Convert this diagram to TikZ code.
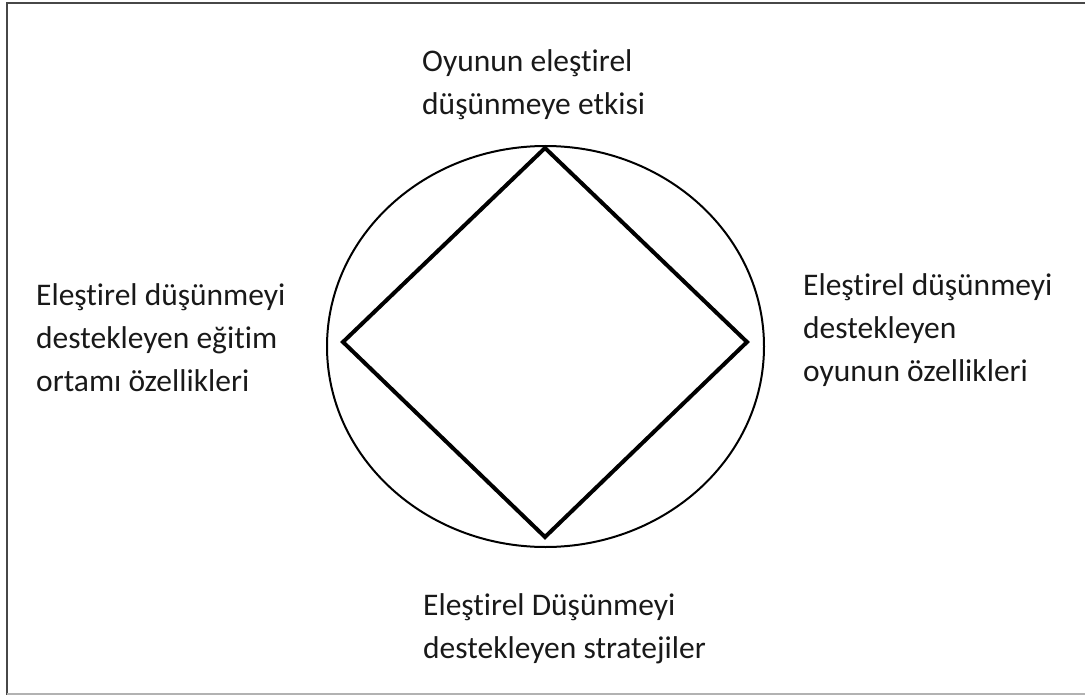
\documentclass[tikz,border=0pt]{standalone}
\usepackage{fontspec}
\setmainfont{Carlito}[Ligatures={NoCommon}]
\begin{document}
\begin{tikzpicture}[x=1bp,y=-1bp,
  lbl/.style={inner sep=0pt, anchor=base west, font=\fontsize{31.5bp}{43bp}\selectfont, text=black!90},
  shape line/.style={line width=4bp, line join=miter, black},
  ring/.style={line width=2bp, black}]
\useasboundingbox (0,0) rectangle (1085,695);
% frame (cropped)
\draw[line width=2.5bp, black!72] (7,695) -- (7,3) -- (1085,3);
\draw[line width=1.5bp, black!30] (7,694) -- (1085,694);
% circle
\coordinate (c) at (545.5,346.5);
\draw[ring] (c) ellipse [x radius=218.5, y radius=200.5];
% diamond corners
\coordinate (dt) at (545,148);
\coordinate (dr) at (747,342);
\coordinate (db) at (545,537);
\coordinate (dl) at (343,342);
\draw[shape line] (dt) -- (dr) -- (db) -- (dl) -- cycle;
% labels
\node[lbl] (ltop) at (422,72) {\begin{tabular}[t]{@{}l@{}}Oyunun eleştirel\\düşünmeye etkisi\end{tabular}};
\node[lbl] (lleft) at (36,305) {\begin{tabular}[t]{@{}l@{}}Eleştirel düşünmeyi\\destekleyen eğitim\\ortamı özellikleri\end{tabular}};
\node[lbl] (lright) at (803,295) {\begin{tabular}[t]{@{}l@{}}Eleştirel düşünmeyi\\destekleyen\\oyunun özellikleri\end{tabular}};
\node[lbl] (lbottom) at (423,615) {\begin{tabular}[t]{@{}l@{}}Eleştirel Düşünmeyi\\destekleyen stratejiler\end{tabular}};
\end{tikzpicture}
\end{document}
